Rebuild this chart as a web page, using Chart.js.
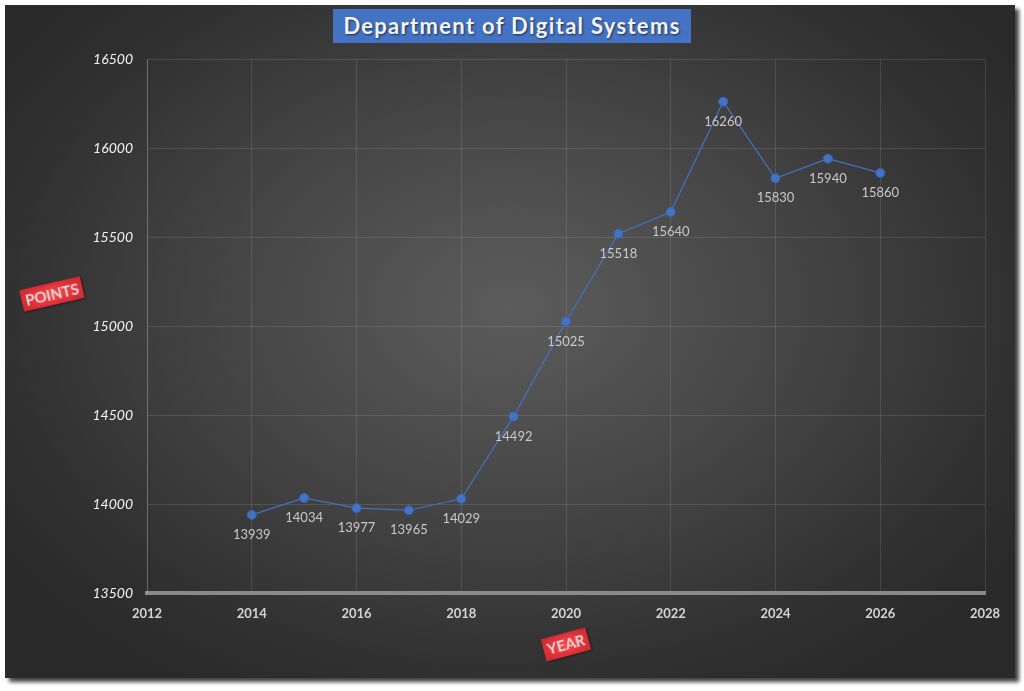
<!DOCTYPE html>
<html>
<head>
<meta charset="utf-8">
<script src="https://cdn.jsdelivr.net/npm/chart.js@4.4.0/dist/chart.umd.min.js"></script>
<style>
  html, body { margin:0; padding:0; background:#ffffff; width:1024px; height:691px; overflow:hidden; }
  #panel { position:absolute; left:5px; top:5px; width:1010px; height:673px;
    background: radial-gradient(ellipse 60% 65% at 50% 45%, #5c5c5c 0%, #464646 45%, #303030 85%, #2a2a2a 100%);
    box-shadow: 4px 4px 4px rgba(0,0,0,0.75); }
  #wrap { position:absolute; left:0; top:0; width:1024px; height:691px; }
  #title { position:absolute; left:333px; top:9px; width:358px; height:34px; background:#4472c4;
    color:#f4f4f4; font-family:Lato, "Open Sans", sans-serif; font-weight:bold; font-size:22px;
    line-height:34px; text-align:center; letter-spacing:1.3px; text-shadow:1px 1px 2px rgba(0,0,0,0.6); }
  .axt { position:absolute; color:#dcdcdc; font-family:Lato, "Open Sans", sans-serif; font-weight:bold;
    text-align:center; background: radial-gradient(ellipse at 50% 50%, #ff4a4a 0%, #e0303a 60%, #c8262e 100%);
    box-shadow: 1px 1px 2px rgba(0,0,0,0.5); }
  #ytitle { left:21px; top:283px; width:62px; height:22px; line-height:22px; font-size:15px; transform:rotate(-13deg); }
  #xtitle { left:543px; top:633px; width:46px; height:23px; line-height:23px; font-size:15px; transform:rotate(-15deg); }
</style>
</head>
<body>
<div id="panel"></div>
<div id="wrap"><canvas id="c" width="1024" height="691"></canvas></div>
<div id="title">Department of Digital Systems</div>
<div id="ytitle" class="axt">POINTS</div>
<div id="xtitle" class="axt">YEAR</div>
<script>
const years = [2014, 2015, 2016, 2017, 2018, 2019, 2020, 2021, 2022, 2023, 2024, 2025, 2026];
const points = [13939, 14034, 13977, 13965, 14029, 14492, 15025, 15518, 15640, 16260, 15830, 15940, 15860];
const xRange = { min: 2012, max: 2028, step: 2 };
const yRange = { min: 13500, max: 16500, step: 500 };

const labelPlugin = {
  id: 'pointLabels',
  afterDatasetsDraw(chart) {
    const ctx = chart.ctx;
    const meta = chart.getDatasetMeta(0);
    ctx.save();
    ctx.font = '13px Lato, "Open Sans", sans-serif';
    ctx.fillStyle = '#c9c9c9';
    ctx.textAlign = 'center';
    ctx.textBaseline = 'middle';
    meta.data.forEach((pt, i) => {
      ctx.fillText(String(points[i]), pt.x, pt.y + 20);
    });
    ctx.restore();
  }
};

new Chart(document.getElementById('c'), {
  type: 'line',
  data: {
    datasets: [{
      data: years.map((y, i) => ({ x: y, y: points[i] })),
      borderColor: '#4472c4',
      borderWidth: 1.2,
      backgroundColor: '#4472c4',
      pointBackgroundColor: '#4472c4',
      pointBorderColor: '#3a64b0',
      pointBorderWidth: 1,
      pointRadius: 4.5,
      tension: 0,
      fill: false
    }]
  },
  options: {
    responsive: false,
    animation: false,
    layout: { padding: { left: 0, right: 39, top: 59, bottom: 0 } },
    plugins: { legend: { display: false }, title: { display: false }, tooltip: { enabled: false } },
    scales: {
      x: {
        type: 'linear',
        min: xRange.min, max: xRange.max,
        ticks: { stepSize: xRange.step, color: '#d4d4d4', font: { family: 'Lato, "Open Sans", sans-serif', size: 13, weight: 'bold' }, padding: 13, callback: v => String(v) },
        grid: { color: 'rgba(255,255,255,0.11)', lineWidth: 1, drawTicks: false },
        border: { color: '#8a8a8a', width: 4 },
        afterFit(s) { s.height = 98; }
      },
      y: {
        min: yRange.min, max: yRange.max,
        ticks: { stepSize: yRange.step, color: '#f2f2f2', font: { family: 'Lato, "Open Sans", sans-serif', size: 14, style: 'italic' }, padding: 14, callback: v => String(v) },
        grid: { color: 'rgba(255,255,255,0.11)', lineWidth: 1, drawTicks: false },
        border: { color: 'rgba(255,255,255,0.2)', width: 1 },
        afterFit(s) { s.width = 147; }
      }
    }
  },
  plugins: [labelPlugin]
});
</script>
</body>
</html>
